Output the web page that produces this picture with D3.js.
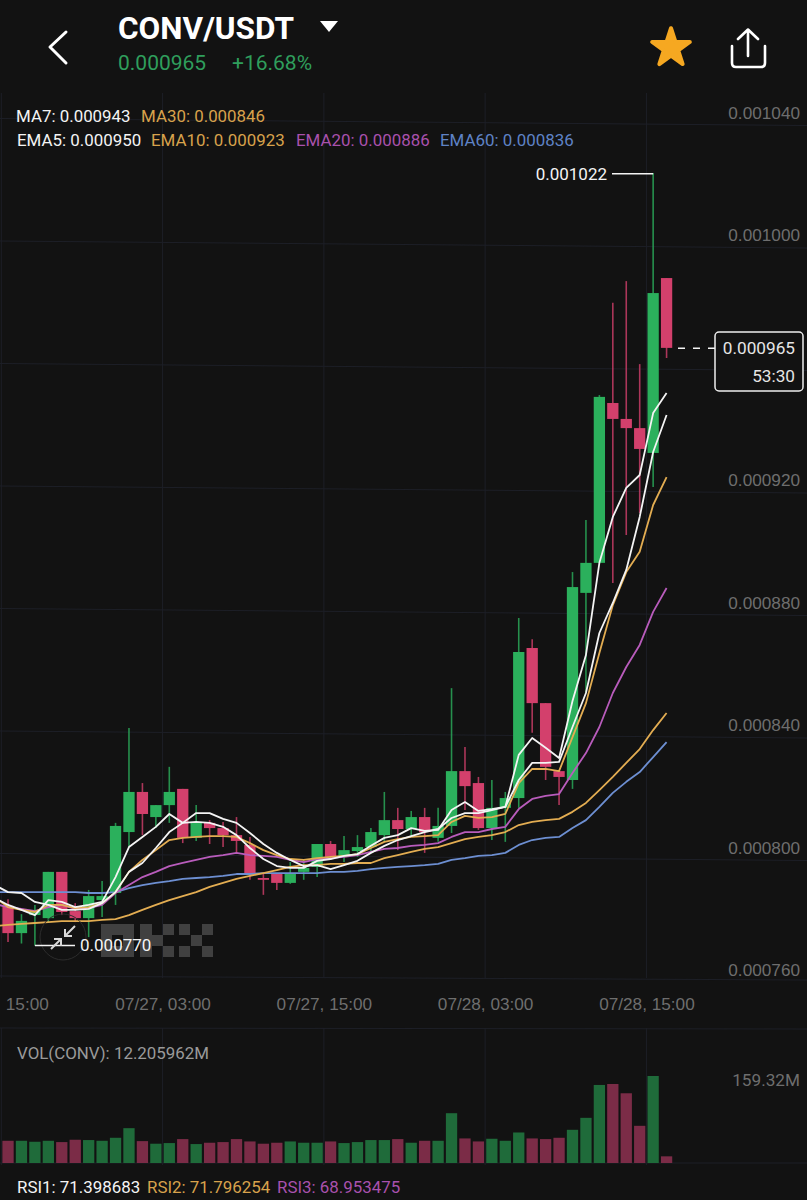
<!DOCTYPE html>
<html lang="en">
<head>
<meta charset="UTF-8">
<title>CONV/USDT</title>
<script src="https://d3js.org/d3.v7.min.js"></script>
<style>
    html, body { margin: 0; padding: 0; background: #121212; overflow: hidden; }
    svg { display: block; font-family: 'Roboto', sans-serif; }
    .tick-label { fill: #6e6e6e; font-size: 17.2px; }
    .axis path, .axis line { display: none; }
</style>
</head>
<body>
<svg id="chart" width="807" height="1200"></svg>
<script>
// prices are in units of 0.000001 USDT, one entry per hourly candle
const opens = [782.9,774.0,779.9,778.9,794.0,781.2,778.9,784.8,787.1,807.0,820.1,811.9,815.8,821.1,805.1,810.0,808.3,806.0,802.8,792.0,793.3,790.4,794.0,795.6,803.1,798.9,800.8,802.1,806.0,810.9,808.0,811.9,805.1,809.0,826.9,823.0,808.3,814.9,818.1,867.1,849.1,826.9,824.0,885.1,894.9,947.1,941.9,938.9,930.8,987.9];
const closes = [774.0,778.0,781.6,794.0,780.9,778.9,786.1,786.1,809.0,820.1,812.9,815.8,820.1,805.1,810.0,808.3,806.0,804.1,793.0,791.4,790.4,793.3,795.3,803.1,798.9,801.1,802.1,807.0,810.9,808.0,811.9,807.0,809.0,826.9,822.0,808.3,814.9,818.1,865.8,849.1,828.3,825.0,887.0,894.9,949.1,941.9,938.9,932.1,983.0,965.1];
const highs = [785.1,780.2,783.2,794.0,794.0,783.8,788.1,791.0,810.0,841.0,823.0,815.8,828.3,821.1,815.8,810.9,810.3,811.9,805.4,793.6,793.6,797.2,797.9,803.1,804.1,805.7,806.0,808.3,820.1,814.9,813.9,814.9,814.9,854.0,834.8,825.0,824.0,820.1,876.9,870.0,849.1,826.9,891.9,908.9,949.7,979.8,986.9,959.8,1022.2,987.9];
const lows = [771.1,770.6,770.0,777.6,779.9,777.6,772.7,779.3,783.2,802.1,806.0,808.3,810.0,803.4,804.1,803.1,802.1,800.2,791.4,786.5,788.1,790.1,791.4,792.3,797.9,797.2,798.9,800.8,803.8,801.1,805.7,800.2,803.8,806.7,814.2,807.7,804.4,803.8,814.9,839.4,824.0,815.8,821.1,852.4,894.9,888.3,904.0,911.2,919.7,961.8];
// volume in millions
const volumes = [40.7,40.7,38.9,40.7,38.3,42.6,42.0,40.7,46.2,63.8,40.1,35.3,36.5,43.8,34.7,37.1,38.3,43.8,39.5,35.3,37.1,39.5,37.1,37.1,39.5,36.5,38.3,42.0,42.0,43.8,37.1,40.7,40.7,91.2,45.0,39.5,44.4,40.7,55.9,45.0,43.8,46.2,60.8,82.7,142.9,144.7,127.7,68.1,159.32,12.2];

// indicator lines start one candle before the first visible one
const ma7 = [789.7,787.4,787.1,784.2,783.2,781.6,781.6,781.9,783.8,787.4,794.0,796.9,801.8,807.0,810.0,813.2,813.2,811.3,810.0,806.7,803.1,800.2,797.9,795.9,796.2,794.9,796.2,797.6,800.2,802.5,804.4,805.7,807.0,808.0,811.6,813.2,813.2,814.2,815.2,824.0,829.6,829.6,829.9,841.3,852.4,872.0,881.8,892.6,909.9,931.1,943.2];
const ma30 = [776.3,776.7,777.0,777.3,777.6,777.9,777.9,777.9,778.3,778.6,779.9,781.6,783.2,784.8,786.1,787.4,789.1,790.4,791.7,792.7,793.6,794.6,795.6,796.2,796.2,796.6,796.6,796.9,796.9,798.5,799.5,800.5,801.5,802.1,803.4,804.7,805.4,806.0,807.0,809.3,810.3,810.9,811.3,813.6,816.5,820.7,825.0,829.6,834.1,840.3,845.9];
const ema5 = [785.5,783.2,781.6,779.9,784.8,784.2,782.5,783.2,784.2,792.3,802.1,805.4,808.7,812.9,810.0,810.3,810.0,808.7,806.0,801.8,798.2,795.9,795.3,795.3,797.6,798.2,799.2,799.8,802.5,805.1,806.0,808.3,807.4,807.7,814.2,816.8,813.9,814.5,815.2,832.2,837.7,834.5,831.2,849.8,864.8,894.9,909.9,919.4,923.6,943.8,950.4];
const ema10 = [785.8,782.5,781.6,780.9,783.2,783.2,782.2,782.5,783.8,787.4,794.0,797.9,801.1,804.4,805.1,805.4,805.7,805.7,805.4,803.4,801.1,799.5,798.2,797.9,798.5,798.9,799.2,799.8,801.8,803.8,804.7,805.4,805.7,806.0,810.3,812.3,811.6,811.9,812.9,823.0,827.6,827.6,826.9,838.0,849.1,865.5,881.1,891.9,898.5,913.8,922.9];
const ema20 = [783.5,782.5,781.9,781.2,782.5,783.2,781.9,782.2,783.2,787.1,789.7,792.3,794.0,795.9,796.9,797.9,798.9,799.5,800.2,799.5,799.2,798.9,797.9,797.2,798.2,798.5,798.9,799.5,800.5,801.5,801.8,802.5,802.8,803.4,805.4,807.0,807.0,808.0,808.7,814.5,817.8,818.8,819.4,826.3,832.8,841.3,852.4,860.9,868.1,878.9,886.7];
const ema60 = [787.4,787.4,787.4,787.4,787.4,787.4,787.4,787.1,787.1,787.4,788.7,789.7,790.4,791.0,791.7,792.0,792.3,792.7,793.3,793.3,793.6,793.6,793.6,793.6,793.6,794.0,794.0,794.3,794.9,795.3,795.6,795.9,796.2,796.6,797.9,798.5,799.2,799.5,800.2,802.8,804.4,805.1,805.4,808.3,810.9,815.2,819.8,823.4,826.6,831.5,836.4];

const gridTicks = [1040, 1000, 960, 920, 880, 840, 800, 760];
// 0.000960 is covered by the last price tag in the app
const priceTicks = [1040, 1000, 920, 880, 840, 800, 760];
const timeTicks = [0, 12, 24, 36, 48];
const timeLabels = ["15:00", "07/27, 03:00", "07/27, 15:00", "07/28, 03:00", "07/28, 15:00"];

const lastPrice = 965, highPrice = 1022, lowPrice = 770;

const green = "#2bb05c", pink = "#d3406c";
const volGreen = "#1f6b3a", volPink = "#7b2c47";
const white = "#f4f4f4", orange = "#e3ad52", purple = "#b95cbc", blue = "#6d8fd2";

const fmt = v => (v / 1e6).toFixed(6);
const svg = d3.select("#chart");

const hourX = d3.scaleLinear().domain([0, 50]).range([1.3, 673.3]);
const bandX = d3.scaleBand().domain(d3.range(50)).range([1.3, 673.3]).paddingInner(0.16).paddingOuter(0.08);
const midX = i => hourX(i + 0.5);
const y = d3.scaleLinear().domain([760, 1040]).range([976, 118.5]);
const volY = d3.scaleLinear().domain([0, 159.32]).range([1163, 1076]);

// grid, the horizontal lines run slightly downhill in the screenshot
const grid = svg.append("g").attr("stroke", "#1d1f27").attr("stroke-width", 1);
grid.selectAll(".h").data(gridTicks).join("line")
    .attr("x1", 0).attr("x2", 807)
    .attr("y1", d => y(d))
    .attr("y2", d => Math.min(y(d) + 7, 980));
timeTicks.forEach(t => {
    grid.append("line").attr("x1", hourX(t)).attr("x2", hourX(t)).attr("y1", 93).attr("y2", 978);
    grid.append("line").attr("x1", hourX(t)).attr("x2", hourX(t)).attr("y1", 1028).attr("y2", 1165);
});
grid.append("line").attr("x1", 0).attr("x2", 807).attr("y1", 1028).attr("y2", 1029);
grid.append("line").attr("x1", 0).attr("x2", 807).attr("y1", 1163).attr("y2", 1163);

// OKX watermark
const wm = svg.append("g").attr("fill", "#404040");
[[101, 924, 33, 33], [140, 924, 12, 33], [152, 935, 11, 11], [163, 924, 11, 11], [163, 946, 11, 11],
 [179, 924, 11, 11], [202, 924, 11, 11], [191, 935, 11, 11], [179, 946, 11, 11], [202, 946, 11, 11]]
    .forEach(r => wm.append("rect").attr("x", r[0]).attr("y", r[1]).attr("width", r[2]).attr("height", r[3]));
wm.append("rect").attr("x", 112).attr("y", 935).attr("width", 11).attr("height", 11).attr("fill", "#121212");

// candles
const candles = svg.append("g");
const idx = d3.range(50);
const upColor = i => closes[i] >= opens[i] ? green : pink;
candles.selectAll(".wick").data(idx).join("line")
    .attr("x1", midX).attr("x2", midX)
    .attr("y1", i => y(highs[i])).attr("y2", i => y(lows[i]))
    .attr("stroke", upColor).attr("stroke-width", 1.6).attr("opacity", 0.8);
candles.selectAll(".body").data(idx).join("rect")
    .attr("x", i => bandX(i)).attr("width", bandX.bandwidth())
    .attr("y", i => y(Math.max(opens[i], closes[i])))
    .attr("height", i => Math.abs(y(opens[i]) - y(closes[i])))
    .attr("fill", upColor);

// indicator lines
const line = d3.line().x((d, i) => midX(i - 1)).y(d => y(d));
[[ema60, blue], [ma30, orange], [ema20, purple], [ema10, orange], [ema5, white], [ma7, white]].forEach(s => {
    svg.append("path").attr("d", line(s[0])).attr("fill", "none")
        .attr("stroke", s[1]).attr("stroke-width", 1.8).attr("stroke-linejoin", "round");
});

// volume
svg.append("g").selectAll("rect").data(idx).join("rect")
    .attr("x", i => bandX(i)).attr("width", bandX.bandwidth())
    .attr("y", i => volY(volumes[i]))
    .attr("height", i => volY(0) - volY(volumes[i]))
    .attr("fill", i => closes[i] >= opens[i] ? volGreen : volPink);

// price axis, labels sit just above their gridlines
const yAxis = svg.append("g").attr("class", "axis")
    .attr("transform", "translate(800,-6)")
    .call(d3.axisLeft(y).tickValues(priceTicks).tickSize(0).tickPadding(0).tickFormat(fmt));
yAxis.selectAll("text").attr("class", "tick-label");

// time axis
const xAxis = svg.append("g").attr("class", "axis")
    .attr("transform", "translate(0,998)")
    .call(d3.axisBottom(hourX).tickValues(timeTicks).tickSize(0).tickPadding(0)
        .tickFormat((d, i) => timeLabels[i]));
xAxis.selectAll("text").attr("class", "tick-label");
xAxis.select(".tick text").attr("text-anchor", "start").attr("x", 4);

function label(x, yPos, txt, color, size, anchor, weight) {
    return svg.append("text").attr("x", x).attr("y", yPos).attr("dy", ".35em")
        .attr("fill", color).attr("font-size", size)
        .attr("text-anchor", anchor || "start").attr("font-weight", weight || 400)
        .text(txt);
}

// high and low markers
svg.append("path").attr("fill", "none").attr("stroke", white).attr("stroke-width", 1.5)
    .attr("d", `M612,${y(highPrice)}H${midX(48)}`);
label(607, y(highPrice), fmt(highPrice), white, 17, "end");

// zoom button under the low marker
svg.append("circle").attr("cx", 63).attr("cy", 937).attr("r", 23).attr("fill", "none").attr("stroke", "#2c2c2c");
svg.append("path").attr("fill", "none").attr("stroke", white).attr("stroke-width", 1.5)
    .attr("d", `M${midX(2)},${y(lowPrice)}H75`);
svg.append("path").attr("fill", "none").attr("stroke", "#d8d8d8").attr("stroke-width", 2)
    .attr("d", "M51,949L61,939M54,939H61V946M75,926L65,936M65,929V936H72");
label(80, y(lowPrice), fmt(lowPrice), white, 17);

// last price tag
svg.append("line").attr("x1", 678).attr("x2", 715).attr("y1", y(lastPrice)).attr("y2", y(lastPrice))
    .attr("stroke", white).attr("stroke-width", 1.4).attr("stroke-dasharray", "7 8");
svg.append("rect").attr("x", 715).attr("y", 332).attr("width", 88).attr("height", 59).attr("rx", 4)
    .attr("fill", "#121212").attr("stroke", "#eeeeee").attr("stroke-width", 1.5);
label(795, 348, fmt(lastPrice), "#e6e6e6", 17.2, "end");
label(795, 376, "53:30", "#e6e6e6", 17.2, "end");

// indicator legends
const legendRows = [
    [16, 116, "MA7: 0.000943", white], [141, 116, "MA30: 0.000846", "#d8a24c"],
    [17, 140, "EMA5: 0.000950", white], [151, 140, "EMA10: 0.000923", "#d8a24c"],
    [296, 140, "EMA20: 0.000886", "#a951ad"], [440, 140, "EMA60: 0.000836", "#5f83c6"],
    [17, 1053, "VOL(CONV): 12.205962M", "#9a9a9a"],
    [17, 1187, "RSI1: 71.398683", white], [147, 1187, "RSI2: 71.796254", "#d8a24c"],
    [277, 1187, "RSI3: 68.953475", "#a951ad"]
];
legendRows.forEach(r => label(r[0], r[1], r[2], r[3], 16.9));
label(800, 1080, "159.32M", "#6e6e6e", 17.2, "end");

// header
label(118, 28, "CONV/USDT", "#ffffff", 31.5, "start", 700);
label(118, 63, fmt(lastPrice), "#2f9e5c", 21);
label(232, 63, "+16.68%", "#2f9e5c", 21);
svg.append("path").attr("fill", "#ffffff").attr("d", "M320,21H338L329,32Z");
svg.append("path").attr("fill", "none").attr("stroke", "#ffffff").attr("stroke-width", 3)
    .attr("stroke-linecap", "round").attr("stroke-linejoin", "round").attr("d", "M66,32L50,47L66,63");
svg.append("path").attr("transform", "translate(671,48)")
    .attr("d", d3.symbol(d3.symbolStar, 440)())
    .attr("fill", "#f6a821").attr("stroke", "#f6a821").attr("stroke-width", 4).attr("stroke-linejoin", "round");
svg.append("path").attr("fill", "none").attr("stroke", "#ffffff").attr("stroke-width", 2.6)
    .attr("stroke-linecap", "round").attr("stroke-linejoin", "round")
    .attr("d", "M732,46V63Q732,67 736,67H761Q765,67 765,63V46M748,56V30M738,39L748,29.5L758,39");
</script>
</body>
</html>
